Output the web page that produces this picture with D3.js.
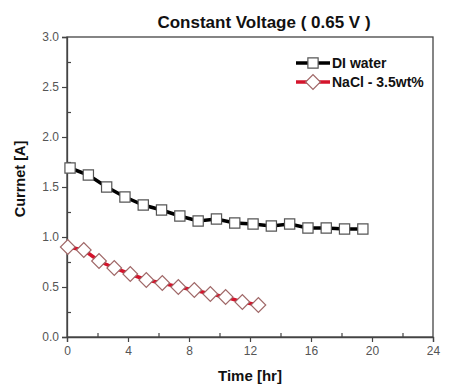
<!DOCTYPE html>
<html>
<head>
<meta charset="utf-8">
<script src="https://cdn.jsdelivr.net/npm/d3@7"></script>
<style>
  body { margin: 0; background: #fff; }
  svg { display: block; font-family: Arial, "Liberation Sans", sans-serif; }
</style>
</head>
<body>
<div id="chart"></div>
<script>
// DI water run
const diTime = [0.2, 1.4, 2.6, 3.8, 5.0, 6.2, 7.4, 8.6, 9.8, 11.0, 12.2, 13.4, 14.6, 15.8, 17.0, 18.2, 19.4];
const diCurrent = [1.69, 1.62, 1.50, 1.40, 1.32, 1.27, 1.21, 1.16, 1.18, 1.14, 1.13, 1.11, 1.13, 1.09, 1.09, 1.08, 1.08];

// NaCl 3.5wt% run
const naclTime = [0.05, 1.1, 2.1, 3.1, 4.15, 5.2, 6.25, 7.3, 8.35, 9.4, 10.4, 11.5, 12.55];
const naclCurrent = [0.90, 0.87, 0.76, 0.69, 0.63, 0.57, 0.54, 0.50, 0.47, 0.43, 0.40, 0.35, 0.32];

const xTicks = [0, 4, 8, 12, 16, 20, 24];
const xMinor = [2, 6, 10, 14, 18, 22];
const yTicks = [0, 0.5, 1.0, 1.5, 2.0, 2.5, 3.0];
const yMinor = [0.25, 0.75, 1.25, 1.75, 2.25, 2.75];

const width = 454, height = 391;
const margin = { top: 37, right: 21, bottom: 54, left: 67 };
const innerW = width - margin.left - margin.right;
const innerH = height - margin.top - margin.bottom;

const svg = d3.select("#chart").append("svg")
    .attr("width", width)
    .attr("height", height);

const g = svg.append("g")
    .attr("transform", `translate(${margin.left},${margin.top})`);

const x = d3.scaleLinear().domain([0, 24]).range([0, innerW]);
const y = d3.scaleLinear().domain([0, 3]).range([innerH, 0]);

const axisColor = "#444";

// frame
g.append("rect")
    .attr("width", innerW)
    .attr("height", innerH)
    .attr("fill", "none")
    .attr("stroke", axisColor)
    .attr("stroke-width", 1.3);

// x axis, major ticks out, minor ticks in
g.append("g")
    .attr("transform", `translate(0,${innerH})`)
    .call(d3.axisBottom(x).tickValues(xTicks).tickSize(5).tickPadding(4).tickFormat(d3.format("d")));
g.append("g")
    .attr("transform", `translate(0,${innerH})`)
    .call(d3.axisBottom(x).tickValues(xMinor).tickSize(-4).tickFormat(""))
    .call(a => a.select(".domain").remove());

g.append("g")
    .call(d3.axisLeft(y).tickValues(yTicks).tickSize(5).tickPadding(3).tickFormat(d3.format(".1f")));
g.append("g")
    .call(d3.axisLeft(y).tickValues(yMinor).tickSize(-4).tickFormat(""))
    .call(a => a.select(".domain").remove());

g.selectAll(".domain").attr("stroke", axisColor).attr("stroke-width", 1.3);
g.selectAll(".tick line").attr("stroke", axisColor).attr("stroke-width", 1.2);
g.selectAll(".tick text")
    .attr("fill", "#555")
    .style("font-size", "12px")
    .style("font-family", "Arial, 'Liberation Sans', sans-serif");

// lines
const diData = diTime.map((t, i) => ({ t, v: diCurrent[i] }));
const naclData = naclTime.map((t, i) => ({ t, v: naclCurrent[i] }));

const line = d3.line().x(d => x(d.t)).y(d => y(d.v));

g.append("path")
    .datum(diData)
    .attr("fill", "none")
    .attr("stroke", "#000")
    .attr("stroke-width", 3.5)
    .attr("d", line);

g.append("path")
    .datum(naclData)
    .attr("fill", "none")
    .attr("stroke", "#d4142c")
    .attr("stroke-width", 3.5)
    .attr("d", line);

const sq = d3.symbol().type(d3.symbolSquare).size(105);
const dm = d3.symbol().type(d3.symbolSquare).size(108);

g.selectAll(".di")
    .data(diData)
    .enter()
    .append("path")
    .attr("class", "di")
    .attr("transform", d => `translate(${x(d.t)},${y(d.v)})`)
    .attr("d", sq)
    .attr("fill", "#fff")
    .attr("stroke", "#555")
    .attr("stroke-width", 1.2);

g.selectAll(".nacl")
    .data(naclData)
    .enter()
    .append("path")
    .attr("class", "nacl")
    .attr("transform", d => `translate(${x(d.t)},${y(d.v)}) rotate(45)`)
    .attr("d", dm)
    .attr("fill", "#fff")
    .attr("stroke", "#a06868")
    .attr("stroke-width", 1.2);

// legend
const legend = [
    { label: "DI water", color: "#000", stroke: "#555", sym: sq, rot: 0, y: 63 },
    { label: "NaCl - 3.5wt%", color: "#d4142c", stroke: "#a06868", sym: dm, rot: 45, y: 82 }
];
const lg = svg.append("g");
legend.forEach(d => {
    lg.append("line")
        .attr("x1", 296).attr("x2", 330)
        .attr("y1", d.y).attr("y2", d.y)
        .attr("stroke", d.color)
        .attr("stroke-width", 3.5);
    lg.append("path")
        .attr("transform", `translate(313,${d.y}) rotate(${d.rot})`)
        .attr("d", d.sym)
        .attr("fill", "#fff")
        .attr("stroke", d.stroke)
        .attr("stroke-width", 1.2);
    lg.append("text")
        .attr("x", 332)
        .attr("y", d.y + 5)
        .attr("fill", "#111")
        .style("font-size", "14px")
        .style("font-weight", "bold")
        .text(d.label);
});

// titles
svg.append("text")
    .attr("x", 264)
    .attr("y", 28)
    .attr("text-anchor", "middle")
    .attr("fill", "#111")
    .style("font-size", "17px")
    .style("font-weight", "bold")
    .text("Constant Voltage ( 0.65 V )");

svg.append("text")
    .attr("x", 250)
    .attr("y", 381)
    .attr("text-anchor", "middle")
    .attr("fill", "#111")
    .style("font-size", "15px")
    .style("font-weight", "bold")
    .text("Time [hr]");

svg.append("text")
    .attr("transform", "translate(25,179) rotate(-90)")
    .attr("text-anchor", "middle")
    .attr("fill", "#111")
    .style("font-size", "14.5px")
    .style("font-weight", "bold")
    .text("Currnet [A]");
</script>
</body>
</html>
